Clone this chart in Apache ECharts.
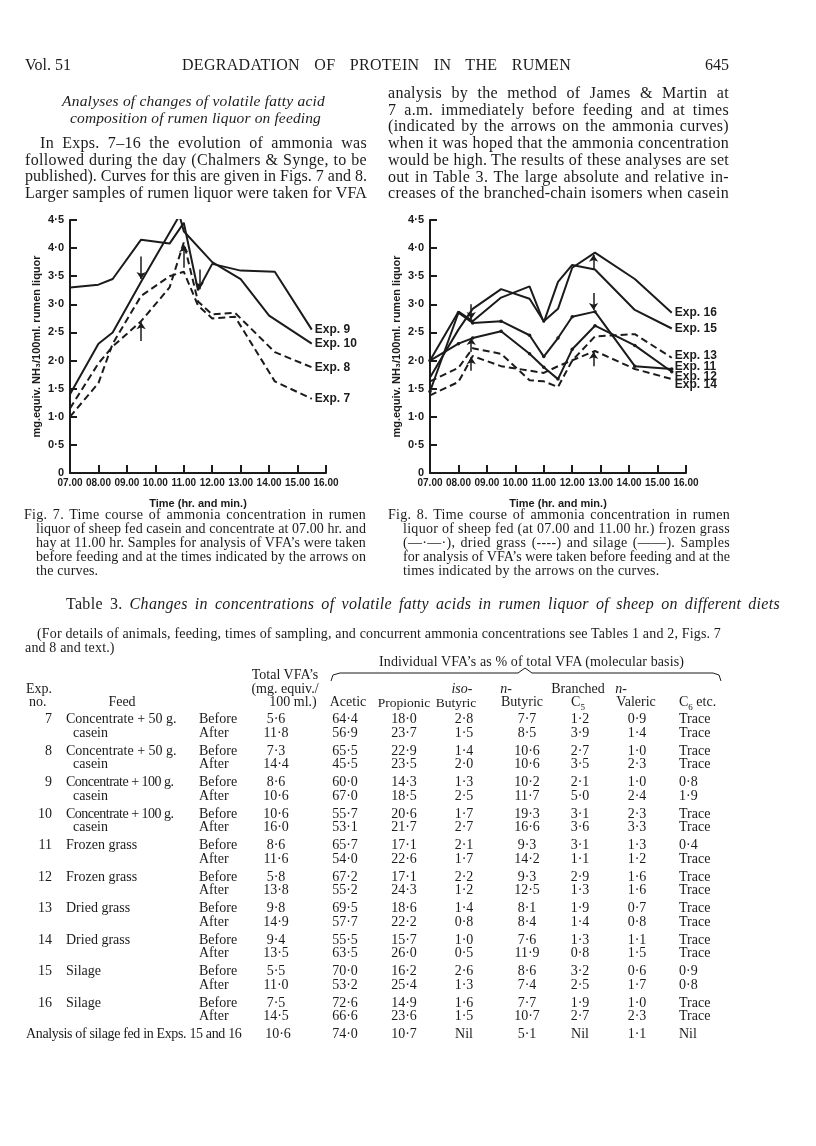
<!DOCTYPE html>
<html>
<head>
<meta charset="utf-8">
<title>Degradation of protein in the rumen</title>
<script src="https://cdn.jsdelivr.net/npm/echarts@6.0.0/dist/echarts.min.js"></script>
<style>
  html, body { margin: 0; padding: 0; background: #fff; }
  #page { position: relative; width: 816px; height: 1146px; overflow: hidden;
          font-family: 'Liberation Serif', 'DejaVu Serif', serif; color: #1b1b1b; }
  #main { position: absolute; left: 0; top: 0; width: 816px; height: 1146px; }
  .t { position: absolute; white-space: nowrap; }
  .j { text-align: justify; text-align-last: justify; }
</style>
</head>
<body>
<div id="page"><div id="main"></div></div>
<script>
// ---- Fig. 7 data: [hour, mg. equiv. NH3 / 100 ml] ----
const exp7 = [[7,1.0],[8,1.6],[8.5,2.3],[9.5,3.15],[10.5,3.5],[11,3.58],[11.5,2.98],[12,2.75],[12.8,2.78],[14.2,1.63],[15.5,1.32]];
const exp8 = [[7,1.15],[8,1.95],[8.5,2.25],[9.5,2.7],[10.5,3.3],[11,4.1],[11.5,3.05],[12,2.82],[12.8,2.85],[14.2,2.15],[15.5,1.88]];
const exp9 = [[7,3.3],[8,3.35],[8.5,3.45],[9.5,4.15],[10.5,4.08],[11,4.45],[11.5,3.25],[12,3.72],[13,3.6],[14.2,3.58],[15.5,2.55]];
const exp10 = [[7,1.4],[8,2.3],[8.5,2.5],[9.5,3.4],[10.85,4.58],[11,4.3],[12,3.75],[13,3.45],[14,2.8],[15.5,2.3]];
// arrows: [hour, from, to]
const arrows7 = [[9.5,3.85,3.45],[9.5,2.35,2.68],[11,3.65,4.05],[11.55,3.62,3.27]];

// ---- Fig. 8 data ----
const exp11 = [[7,1.45],[8,2.85],[8.5,2.67],[9.5,2.7],[10.5,2.45],[11,2.07],[11.5,2.4],[12,2.78],[12.8,2.87],[14.2,1.9],[15.5,1.85]];
const exp12 = [[7,2.0],[8,2.3],[8.5,2.4],[9.5,2.52],[10.5,2.12],[11,1.88],[11.5,1.67],[12,2.2],[12.8,2.62],[14.2,2.27],[15.5,1.8]];
const exp13 = [[7,1.63],[8,1.87],[8.5,2.22],[9.5,2.12],[10.5,1.65],[11,1.63],[11.5,1.53],[12,2.0],[12.8,2.43],[14.2,2.47],[15.5,2.05]];
const exp14 = [[7,1.38],[8,1.62],[8.5,2.08],[9.5,1.9],[10.5,1.82],[11,1.78],[11.5,1.9],[12.8,2.17],[14.2,1.85],[15.5,1.67]];
const exp15 = [[7,2.0],[8,2.87],[8.5,2.7],[9.5,3.12],[10.5,3.32],[11,2.68],[11.5,3.4],[12,3.7],[12.8,3.62],[14.2,2.9],[15.5,2.57]];
const exp16 = [[7,1.7],[8,2.55],[8.5,2.92],[9.5,3.27],[10.5,3.1],[11,2.7],[11.5,2.92],[12,3.65],[12.8,3.92],[14.2,3.45],[15.5,2.85]];
const arrows8 = [[8.45,3.0,2.74],[8.45,2.15,2.4],[8.45,1.82,2.06],[12.75,3.2,2.9],[12.75,3.62,3.88],[12.75,1.9,2.15]];

// ---- Table 3 ----
const expNo = [7,8,9,10,11,12,13,14,15,16];
const feed = [['Concentrate + 50 g.','casein'],['Concentrate + 50 g.','casein'],['Concentrate + 100 g.','casein'],
  ['Concentrate + 100 g.','casein'],['Frozen grass',''],['Frozen grass',''],['Dried grass',''],['Dried grass',''],['Silage',''],['Silage','']];
const totalVFA = [[5.6,11.8],[7.3,14.4],[8.6,10.6],[10.6,16.0],[8.6,11.6],[5.8,13.8],[9.8,14.9],[9.4,13.5],[5.5,11.0],[7.5,14.5]];
const acetic = [[64.4,56.9],[65.5,45.5],[60.0,67.0],[55.7,53.1],[65.7,54.0],[67.2,55.2],[69.5,57.7],[55.5,63.5],[70.0,53.2],[72.6,66.6]];
const propionic = [[18.0,23.7],[22.9,23.5],[14.3,18.5],[20.6,21.7],[17.1,22.6],[17.1,24.3],[18.6,22.2],[15.7,26.0],[16.2,25.4],[14.9,23.6]];
const isoButyric = [[2.8,1.5],[1.4,2.0],[1.3,2.5],[1.7,2.7],[2.1,1.7],[2.2,1.2],[1.4,0.8],[1.0,0.5],[2.6,1.3],[1.6,1.5]];
const nButyric = [[7.7,8.5],[10.6,10.6],[10.2,11.7],[19.3,16.6],[9.3,14.2],[9.3,12.5],[8.1,8.4],[7.6,11.9],[8.6,7.4],[7.7,10.7]];
const branchedC5 = [[1.2,3.9],[2.7,3.5],[2.1,5.0],[3.1,3.6],[3.1,1.1],[2.9,1.3],[1.9,1.4],[1.3,0.8],[3.2,2.5],[1.9,2.7]];
const nValeric = [[0.9,1.4],[1.0,2.3],[1.0,2.4],[2.3,3.3],[1.3,1.2],[1.6,1.6],[0.7,0.8],[1.1,1.5],[0.6,1.7],[1.0,2.3]];
const c6 = [['Trace','Trace'],['Trace','Trace'],[0.8,1.9],['Trace','Trace'],[0.4,'Trace'],['Trace','Trace'],['Trace','Trace'],['Trace','Trace'],[0.9,0.8],['Trace','Trace']];
const silageFed = [10.6,74.0,10.7,'Nil',5.1,'Nil',1.1,'Nil'];

const ink = '#1b1b1b';
const dot = v => typeof v === 'number' ? (v === 0 ? '0' : v.toFixed(1).replace('.', '\u00b7')) : v;

// ---------- page text ----------
const page = document.getElementById('page');
// align: l / r / c / j (justified to width w, letter-spacing nudged so the line fills w)
function put(html, x, y, size, align, w, extra, ls) {
  const d = document.createElement('div');
  d.className = 't';
  d.innerHTML = html;
  const lh = Math.round(size * 1.25);
  d.style.fontSize = size + 'px';
  d.style.lineHeight = lh + 'px';
  d.style.top = (y - lh / 2) + 'px';
  if (extra) Object.assign(d.style, extra);
  if (ls != null) d.style.letterSpacing = ls + 'px';
  if (align === 'l') d.style.left = x + 'px';
  else if (align === 'r') { d.style.left = (x - 600) + 'px'; d.style.width = '600px'; d.style.textAlign = 'right'; }
  else if (align === 'c') { d.style.left = (x - 300) + 'px'; d.style.width = '600px'; d.style.textAlign = 'center'; }
  else d.style.left = x + 'px';
  page.appendChild(d);
  if (align === 'j') {
    const nat = d.getBoundingClientRect().width;
    const n = d.textContent.length;
    let s = (w - nat) / n;
    s = Math.max(-1.2, Math.min(0.3, s));
    d.style.letterSpacing = s + 'px';
    d.style.width = w + 'px';
    d.className = 't j';
    return s;
  }
  return ls || 0;
}
function block(lines, x0, x1, xFirst, y0, step, size, extra, lastJustified) {
  let sum = 0, cnt = 0;
  lines.forEach((s, i) => {
    const left = i === 0 ? xFirst : x0;
    const y = y0 + i * step;
    if (i === lines.length - 1 && !lastJustified) {
      put(s, left, y, size, 'l', 0, extra, cnt ? sum / cnt : 0);
    } else {
      sum += put(s, left, y, size, 'j', x1 - left, extra); cnt++;
    }
  });
}

put('Vol. 51', 25, 65, 16, 'l');
put('DEGRADATION OF PROTEIN IN THE RUMEN', 182, 65, 16, 'j', 389);
put('645', 729, 65, 16, 'r');

put('Analyses of changes of volatile fatty acid', 62, 100, 15.5, 'j', 263, {fontStyle: 'italic'});
put('composition of rumen liquor on feeding', 70, 117, 15.5, 'j', 251, {fontStyle: 'italic'});

const leftPara = ['In Exps. 7\u201316 the evolution of ammonia was',
  'followed during the day (Chalmers &amp; Synge, to be',
  'published). Curves for this are given in Figs. 7 and 8.',
  'Larger samples of rumen liquor were taken for VFA'];
block(leftPara, 25, 367, 40, 143, 16.7, 16, null, true);

const rightPara = ['analysis by the method of James &amp; Martin at',
  '7 a.m. immediately before feeding and at times',
  '(indicated by the arrows on the ammonia curves)',
  'when it was hoped that the ammonia concentration',
  'would be high. The results of these analyses are set',
  'out in Table 3. The large absolute and relative in-',
  'creases of the branched-chain isomers when casein'];
block(rightPara, 388, 729, 388, 93, 16.7, 16, null, true);

const cap7 = ['Fig. 7. Time course of ammonia concentration in rumen',
  'liquor of sheep fed casein and concentrate at 07.00 hr. and',
  'hay at 11.00 hr. Samples for analysis of VFA\u2019s were taken',
  'before feeding and at the times indicated by the arrows on',
  'the curves.'];
const cap8 = ['Fig. 8. Time course of ammonia concentration in rumen',
  'liquor of sheep fed (at 07.00 and 11.00 hr.) frozen grass',
  '(\u2014\u00b7\u2014\u00b7), dried grass (----) and silage (\u2014\u2014). Samples',
  'for analysis of VFA\u2019s were taken before feeding and at the',
  'times indicated by the arrows on the curves.'];
block(cap7, 36, 366, 24, 515, 14, 14, null, false);
block(cap8, 403, 730, 388, 515, 14, 14, null, false);

put('Table 3. <i>Changes in concentrations of volatile fatty acids in rumen liquor of sheep on different diets</i>', 66, 604, 16, 'j', 714);
const lsNote = put('(For details of animals, feeding, times of sampling, and concurrent ammonia concentrations see Tables 1 and 2, Figs. 7', 37, 634, 14, 'j', 684);
put('and 8 and text.)', 25, 648, 14, 'l', 0, null, lsNote);

// table header
const hs = 14;
put('Individual VFA\u2019s as % of total VFA (molecular basis)', 379, 662, hs, 'j', 305);
put('Total VFA\u2019s', 285, 675, hs, 'c');
put('(mg. equiv./', 285, 689, hs, 'c');
put('100 ml.)', 293, 702, hs, 'c');
put('Exp.', 26, 689, hs, 'l');
put('no.', 29, 702, hs, 'l');
put('Feed', 122, 702, hs, 'c');
put('Acetic', 348, 702, hs, 'c');
put('Propionic', 404, 702, 13.5, 'c');
put('<i>iso</i>-', 462, 689, hs, 'c');
put('Butyric', 456, 702, 13.5, 'c');
put('<i>n</i>-', 506, 689, hs, 'c');
put('Butyric', 522, 702, hs, 'c');
put('Branched', 578, 689, hs, 'c');
put('C<sub style="font-size:9px">5</sub>', 578, 702, hs, 'c');
put('<i>n</i>-', 621, 689, hs, 'c');
put('Valeric', 636, 702, hs, 'c');
put('C<sub style="font-size:9px">6</sub> etc.', 679, 702, hs, 'l');

// table body
const colX = { total: 276, acetic: 345, propionic: 404, iso: 464, nbut: 527, c5: 580, val: 637, c6: 679 };
expNo.forEach((n, i) => {
  const y0 = 719 + i * 31.5;
  [0, 1].forEach(k => {
    const y = y0 + k * 13.5;
    if (k === 0) put(String(n), 52, y, hs, 'r');
    if (feed[i][k]) put(feed[i][k], k === 0 ? 66 : 73, y, hs, 'l', 0, null, feed[i][k].length > 19 ? -0.5 : 0);
    put(k === 0 ? 'Before' : 'After', 199, y, hs, 'l');
    put(dot(totalVFA[i][k]), colX.total, y, hs, 'c');
    put(dot(acetic[i][k]), colX.acetic, y, hs, 'c');
    put(dot(propionic[i][k]), colX.propionic, y, hs, 'c');
    put(dot(isoButyric[i][k]), colX.iso, y, hs, 'c');
    put(dot(nButyric[i][k]), colX.nbut, y, hs, 'c');
    put(dot(branchedC5[i][k]), colX.c5, y, hs, 'c');
    put(dot(nValeric[i][k]), colX.val, y, hs, 'c');
    put(dot(c6[i][k]), colX.c6, y, hs, 'l');
  });
});
put('Analysis of silage fed in Exps. 15 and 16', 26, 1034, hs, 'l', 0, null, -0.35);
const silX = [colX.total, colX.acetic, colX.propionic, colX.iso, colX.nbut, colX.c5, colX.val];
silageFed.forEach((v, j) => {
  if (j < 7) put(dot(v), silX[j] + (j === 0 ? 2 : 0), 1034, hs, 'c');
  else put(v, colX.c6, 1034, hs, 'l');
});

// ---------- charts ----------
const chart = echarts.init(document.getElementById('main'), null, { renderer: 'canvas' });
const sans = 'Liberation Sans';
const labelFont = { fontFamily: sans, fontSize: 10, fontWeight: 'bold', color: ink };

function xAxis(idx) {
  return {
    gridIndex: idx, type: 'value', min: 7, max: 16, interval: 1,
    axisLine: { show: true, onZero: false, lineStyle: { color: ink, width: 2 } },
    axisTick: { show: true, inside: true, length: 8, lineStyle: { color: ink, width: 2 } },
    axisLabel: Object.assign({ margin: 5, formatter: v => (v < 10 ? '0' : '') + v + '.00' }, labelFont),
    splitLine: { show: false },
    name: 'Time (hr. and min.)', nameLocation: 'middle', nameGap: 25,
    nameTextStyle: { fontFamily: sans, fontSize: 11, fontWeight: 'bold', color: ink }
  };
}
function yAxis(idx) {
  return {
    gridIndex: idx, type: 'value', min: 0, max: 4.5, interval: 0.5,
    axisLine: { show: true, lineStyle: { color: ink, width: 2 } },
    axisTick: { show: true, inside: true, length: 7, lineStyle: { color: ink, width: 2 } },
    axisLabel: Object.assign({ margin: 6, formatter: v => dot(v) }, { fontFamily: sans, fontSize: 11, fontWeight: 'bold', color: ink }),
    splitLine: { show: false },
    name: 'mg.equiv. NH\u2083/100ml. rumen liquor', nameLocation: 'middle', nameGap: 28,
    nameTextStyle: { fontFamily: sans, fontSize: 11, fontWeight: 'bold', color: ink }
  };
}
function arrowMarks(list) {
  return {
    silent: true, animation: false, symbol: ['none', 'arrow'], symbolSize: 7,
    lineStyle: { color: ink, width: 1.5, type: 'solid' },
    label: { show: false }, emphasis: { disabled: true },
    data: list.map(a => [{ coord: [a[0], a[1]] }, { coord: [a[0], a[2]] }])
  };
}
function curve(name, data, grid, dashed, dots, dy, arrows) {
  const s = {
    name: name, type: 'line', xAxisIndex: grid, yAxisIndex: grid, data: data,
    symbol: dots ? 'circle' : 'none', symbolSize: 3.5,
    itemStyle: { color: ink },
    lineStyle: { color: ink, width: 2, type: dashed ? [7, 4] : 'solid' },
    emphasis: { disabled: true },
    endLabel: { show: true, formatter: name, distance: 3, offset: [0, dy || 0],
      fontFamily: sans, fontSize: 12, fontWeight: 'bold', color: ink }
  };
  if (arrows) s.markLine = arrowMarks(arrows);
  return s;
}

chart.setOption({
  animation: false,
  grid: [
    { left: 70, top: 220, width: 256, height: 253, outerBoundsMode: 'none' },
    { left: 430, top: 220, width: 256, height: 253, outerBoundsMode: 'none' }
  ],
  xAxis: [xAxis(0), xAxis(1)],
  yAxis: [yAxis(0), yAxis(1)],
  series: [
    curve('Exp. 9', exp9, 0, false, false, 0, arrows7),
    curve('Exp. 10', exp10, 0, false, false, 0),
    curve('Exp. 8', exp8, 0, true, false, 0),
    curve('Exp. 7', exp7, 0, true, false, 0),
    curve('Exp. 16', exp16, 1, false, false, 0, arrows8),
    curve('Exp. 15', exp15, 1, false, false, 0),
    curve('Exp. 13', exp13, 1, true, false, -2),
    curve('Exp. 11', exp11, 1, false, true, -2),
    curve('Exp. 12', exp12, 1, false, true, 5),
    curve('Exp. 14', exp14, 1, true, false, 6)
  ],
  graphic: [{
    type: 'polyline', silent: true,
    shape: { points: [[331, 681], [333, 675], [340, 673], [518, 673], [525, 668], [532, 673], [713, 673], [719, 675], [721, 681]] },
    style: { stroke: ink, lineWidth: 1, fill: null }
  }]
});
</script>
</body>
</html>
